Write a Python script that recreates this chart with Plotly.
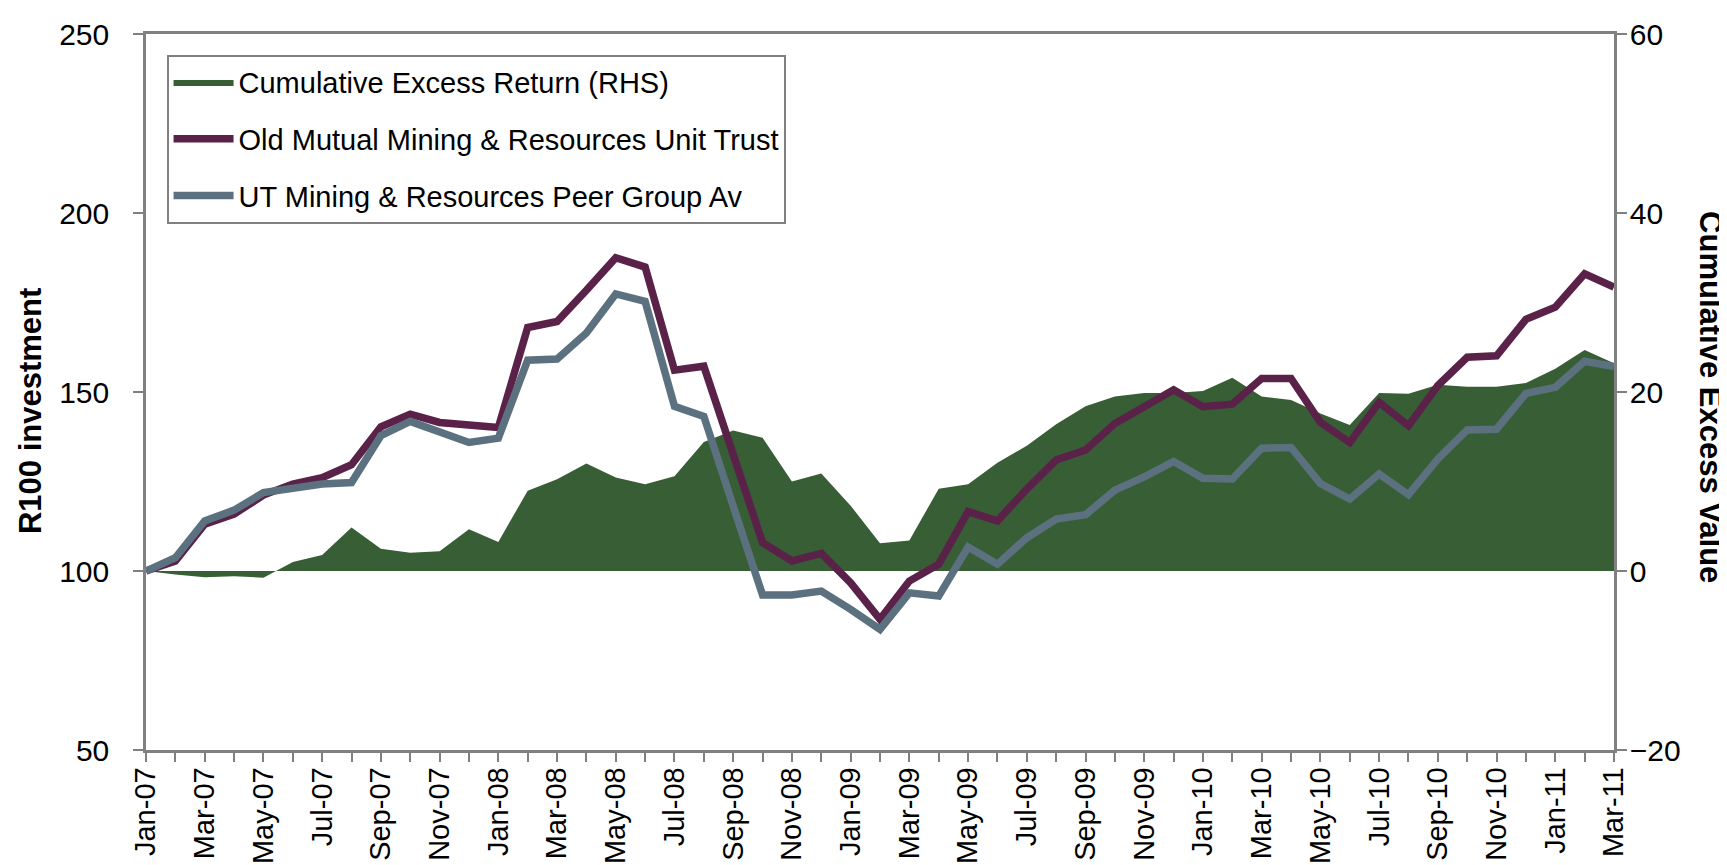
import plotly.graph_objects as go

months = ["Jan-07", "Feb-07", "Mar-07", "Apr-07", "May-07", "Jun-07", "Jul-07", "Aug-07", "Sep-07", "Oct-07",
          "Nov-07", "Dec-07", "Jan-08", "Feb-08", "Mar-08", "Apr-08", "May-08", "Jun-08", "Jul-08", "Aug-08",
          "Sep-08", "Oct-08", "Nov-08", "Dec-08", "Jan-09", "Feb-09", "Mar-09", "Apr-09", "May-09", "Jun-09",
          "Jul-09", "Aug-09", "Sep-09", "Oct-09", "Nov-09", "Dec-09", "Jan-10", "Feb-10", "Mar-10", "Apr-10",
          "May-10", "Jun-10", "Jul-10", "Aug-10", "Sep-10", "Oct-10", "Nov-10", "Dec-10", "Jan-11", "Feb-11",
          "Mar-11"]

excess_return = [0, -0.4, -0.7, -0.6, -0.75, 1.0, 1.8, 4.85, 2.5, 2.05,
                 2.2, 4.66, 3.25, 8.96, 10.26, 12.0, 10.45, 9.7, 10.6, 14.4,
                 15.7, 14.9, 10.0, 10.9, 7.3, 3.1, 3.4, 9.2, 9.7, 12.1,
                 14.0, 16.4, 18.4, 19.5, 19.9, 19.9, 20.1, 21.6, 19.5, 19.1,
                 17.6, 16.3, 19.9, 19.8, 20.8, 20.6, 20.6, 21.0, 22.6, 24.7,
                 23.2]

old_mutual = [100, 102.8, 113.1, 115.9, 121.2, 124.3, 126.1, 129.7, 140.3, 143.8,
              141.5, 140.6, 140.1, 168.0, 169.7, 178.4, 187.5, 184.9, 156.1, 157.2,
              132.6, 107.9, 102.8, 104.9, 96.7, 86.5, 97.2, 101.9, 116.6, 114.0,
              122.9, 131.0, 133.8, 141.2, 145.9, 150.6, 145.9, 146.6, 153.8, 153.8,
              141.5, 135.9, 147.1, 140.6, 151.8, 159.7, 160.1, 170.3, 173.7, 183.0,
              179.3]

peer_group = [100, 103.7, 114.0, 117.0, 121.9, 122.9, 124.3, 124.7, 137.8, 141.8,
              139.0, 135.9, 137.1, 158.9, 159.2, 166.5, 177.4, 175.3, 146.0, 143.2,
              118.1, 93.3, 93.3, 94.4, 89.3, 83.7, 93.9, 93.0, 106.7, 101.9,
              109.3, 114.5, 115.7, 122.6, 126.3, 130.6, 125.9, 125.7, 134.3, 134.5,
              124.4, 120.1, 127.1, 121.3, 131.3, 139.4, 139.6, 149.6, 151.3, 158.6,
              157.1]

tick_labels = [m if i % 2 == 0 else "" for i, m in enumerate(months)]

GREEN = "#385E36"
PURPLE = "#5A2149"
SLATE = "#5C717F"
AXIS = "#808080"
FONT = "Liberation Sans, Arial, sans-serif"

fig = go.Figure()
fig.add_trace(go.Scatter(
    x=months, y=excess_return, name="Cumulative Excess Return (RHS)",
    mode="lines", fill="tozeroy", fillcolor=GREEN, line=dict(width=0, color=GREEN),
    yaxis="y", legendgroup="a"))
fig.add_trace(go.Scatter(
    x=months, y=old_mutual, name="Old Mutual Mining & Resources Unit Trust",
    mode="lines", line=dict(width=7.5, color=PURPLE), yaxis="y2", legendgroup="b"))
fig.add_trace(go.Scatter(
    x=months, y=peer_group, name="UT Mining & Resources Peer Group Av",
    mode="lines", line=dict(width=7.5, color=SLATE), yaxis="y2", legendgroup="c"))

fig.update_layout(
    template="none",
    width=1727, height=865,
    margin=dict(l=138, r=121, t=26, b=123, autoexpand=False),
    paper_bgcolor="white", plot_bgcolor="white",
    font=dict(family=FONT, size=30, color="black"),
    showlegend=True,
    legend=dict(x=0.014, y=0.971, xanchor="left", yanchor="top",
                bgcolor="white", bordercolor=AXIS, borderwidth=2,
                font=dict(size=29), traceorder="grouped", tracegroupgap=16,
                itemwidth=60),
    xaxis=dict(type="category", range=[0, len(months) - 1], automargin=False,
               tickvals=months, ticktext=tick_labels, tickangle=-90,
               ticks="outside", ticklen=9, tickwidth=1.5, tickcolor=AXIS,
               showline=True, linecolor=AXIS, linewidth=2.5, mirror=True,
               showgrid=False, zeroline=False, tickfont=dict(size=29),
               ticklabelstandoff=-6),
    yaxis=dict(side="right", range=[-20, 60], dtick=20, tick0=0, automargin=False,
               ticks="outside", ticklen=10, tickwidth=1.5, tickcolor=AXIS,
               showline=True, linecolor=AXIS, linewidth=2.5,
               showgrid=False, zeroline=False, tickfont=dict(size=30),
               ticklabelstandoff=-3),
    yaxis2=dict(side="left", overlaying="y", range=[50, 250], dtick=50, tick0=50,
                automargin=False,
                ticks="outside", ticklen=10, tickwidth=1.5, tickcolor=AXIS,
                showline=True, linecolor=AXIS, linewidth=2.5,
                showgrid=False, zeroline=False, tickfont=dict(size=30),
                ticklabelstandoff=18),
    annotations=[
        dict(text="<b>R100 investment</b>", textangle=-90,
             xref="paper", yref="paper", x=-0.0783, y=0.4735,
             xanchor="center", yanchor="middle", showarrow=False,
             font=dict(size=31)),
        dict(text="<b>Cumulative Excess Value</b>", textangle=90,
             xref="paper", yref="paper", x=1.066, y=0.493,
             xanchor="center", yanchor="middle", showarrow=False,
             font=dict(size=31)),
    ],
)

fig.write_html("out.html")
